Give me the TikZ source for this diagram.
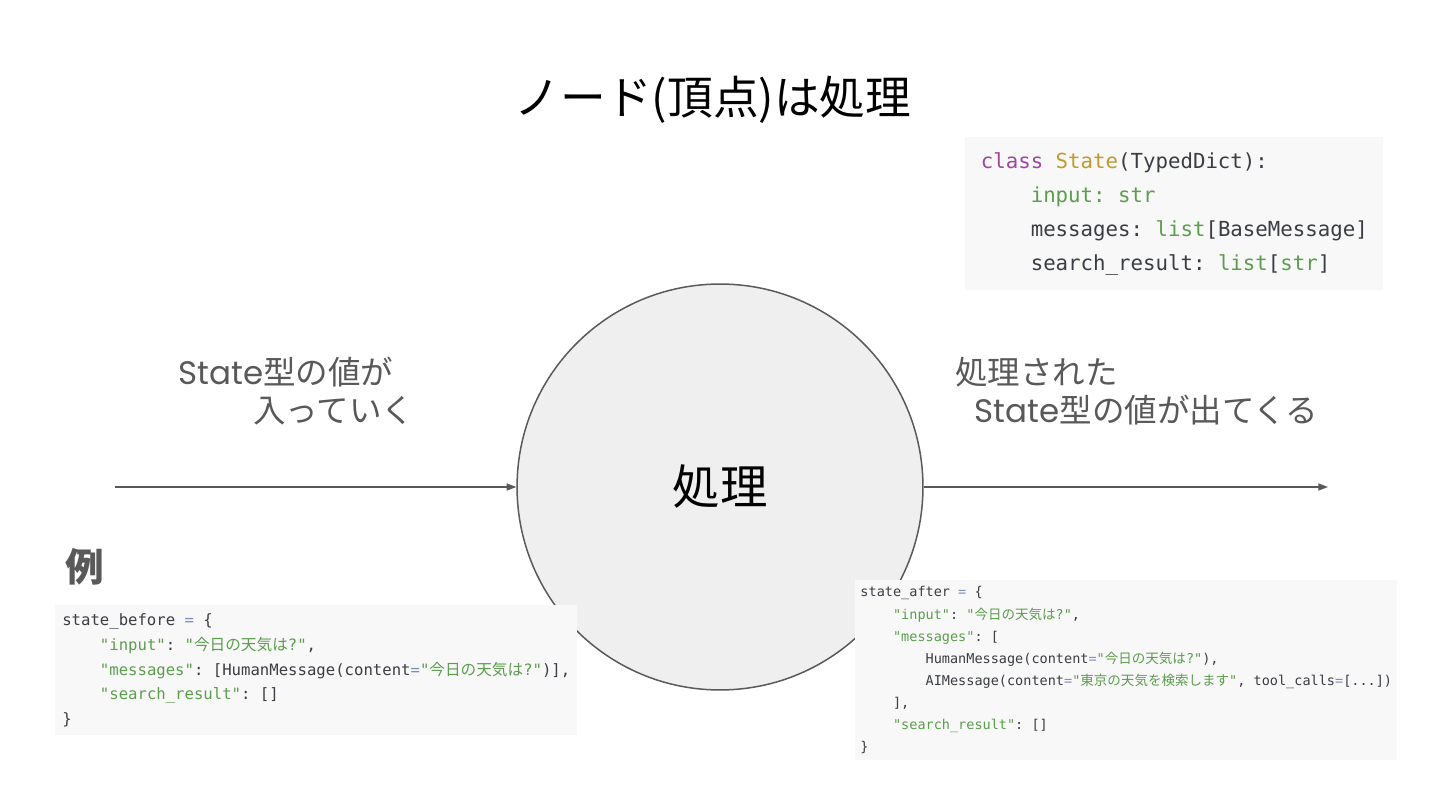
\documentclass[tikz,border=0pt]{standalone}
\usepackage{fontspec}
\usepackage{xcolor}
\usetikzlibrary{arrows.meta}
\setmainfont{Noto Sans CJK JP}
\setmonofont{DejaVu Sans Mono}
\newfontfamily\jpfont{Noto Sans CJK JP}
\newfontfamily\latinfont{Poppins}

\definecolor{labelgray}{HTML}{595959}
\definecolor{circfill}{HTML}{EFEFEF}
\definecolor{circline}{HTML}{5A5A5A}
\definecolor{codebg}{HTML}{F8F8F8}
\definecolor{codetext}{HTML}{3B3D44}
\definecolor{codegreen}{HTML}{5C9E4E}
\definecolor{codepurple}{HTML}{A0469E}
\definecolor{codeorange}{HTML}{C49A2C}
\definecolor{codeblue}{HTML}{7A8FBF}

\newcommand{\cstr}[1]{\textcolor{codegreen}{#1}}
\newcommand{\ckw}[1]{\textcolor{codepurple}{#1}}
\newcommand{\ccls}[1]{\textcolor{codeorange}{#1}}
\newcommand{\ceq}{\textcolor{codeblue}{=}}
\newcommand{\jtxt}[1]{{\jpfont #1}}
\newcommand{\ltxt}[1]{{\latinfont #1}}
\newcommand{\tab}{\phantom{xxxx}}

\begin{document}
\begin{tikzpicture}[x=0.02cm,y=-0.02cm,>={Triangle[length=5.5pt,width=4pt]},
  codebox/.style={anchor=north west,fill=codebg,align=left,inner sep=0pt,text=codetext},
  label/.style={anchor=north west,align=left,inner sep=0pt,text=labelgray,font=\fontsize{18.5}{21.6}\selectfont}]
\useasboundingbox[fill=white] (0,0) rectangle (1440,810);

\node[font=\fontsize{26}{30}\selectfont] (title) at (713,100) {ノード(頂点)は処理};
\node[circle,draw=circline,line width=0.85pt,fill=circfill,minimum size=8.12cm,inner sep=0pt,font=\fontsize{27}{30}\selectfont] (proc) at (720,487) {処理};

\coordinate (in) at (115,487);
\coordinate (out) at (1328,487);
\draw[->,labelgray,line width=0.8pt] (in) -- (proc);
\draw[->,labelgray,line width=0.8pt] (proc) -- (out);

\node[label] (inlabel) at (178,357) {\ltxt{State}型の値が\\\hspace*{2.3em}入っていく};
\node[label] (outlabel) at (955,357) {処理された\\\hspace*{0.6em}\ltxt{State}型の値が出てくる};

\node[text=labelgray,font=\bfseries\fontsize{22}{26}\selectfont] (rei) at (85,567) {例};

\node[codebox,minimum width=8.36cm,minimum height=3.06cm,font=\ttfamily\fontsize{11.8}{19.3}\selectfont] (schema) at (965,137) {%
\ckw{class} \ccls{State}(TypedDict):\\
\tab\cstr{input: str}\\
\tab messages: \cstr{list}[BaseMessage]\\
\tab search\_result: \cstr{list}[\cstr{str}]};

\node[codebox,minimum width=10.44cm,minimum height=2.6cm,font=\ttfamily\fontsize{8.9}{14.2}\selectfont] (before) at (55,605) {%
state\_before \ceq{} \{\\
\tab\cstr{"input"}: \cstr{"\jtxt{今日の天気は}?"},\\
\tab\cstr{"messages"}: [HumanMessage(content\ceq\cstr{"\jtxt{今日の天気は}?"})],\\
\tab\cstr{"search\_result"}: []\\
\}};

\node[codebox,minimum width=10.84cm,minimum height=3.6cm,font=\ttfamily\fontsize{7.7}{12.6}\selectfont] (after) at (855,580) {%
state\_after \ceq{} \{\\
\tab\cstr{"input"}: \cstr{"\jtxt{今日の天気は}?"},\\
\tab\cstr{"messages"}: [\\
\tab\tab HumanMessage(content\ceq\cstr{"\jtxt{今日の天気は}?"}),\\
\tab\tab AIMessage(content\ceq\cstr{"\jtxt{東京の天気を検索します}"}, tool\_calls\ceq[...])\\
\tab ],\\
\tab\cstr{"search\_result"}: []\\
\}};
\end{tikzpicture}
\end{document}
